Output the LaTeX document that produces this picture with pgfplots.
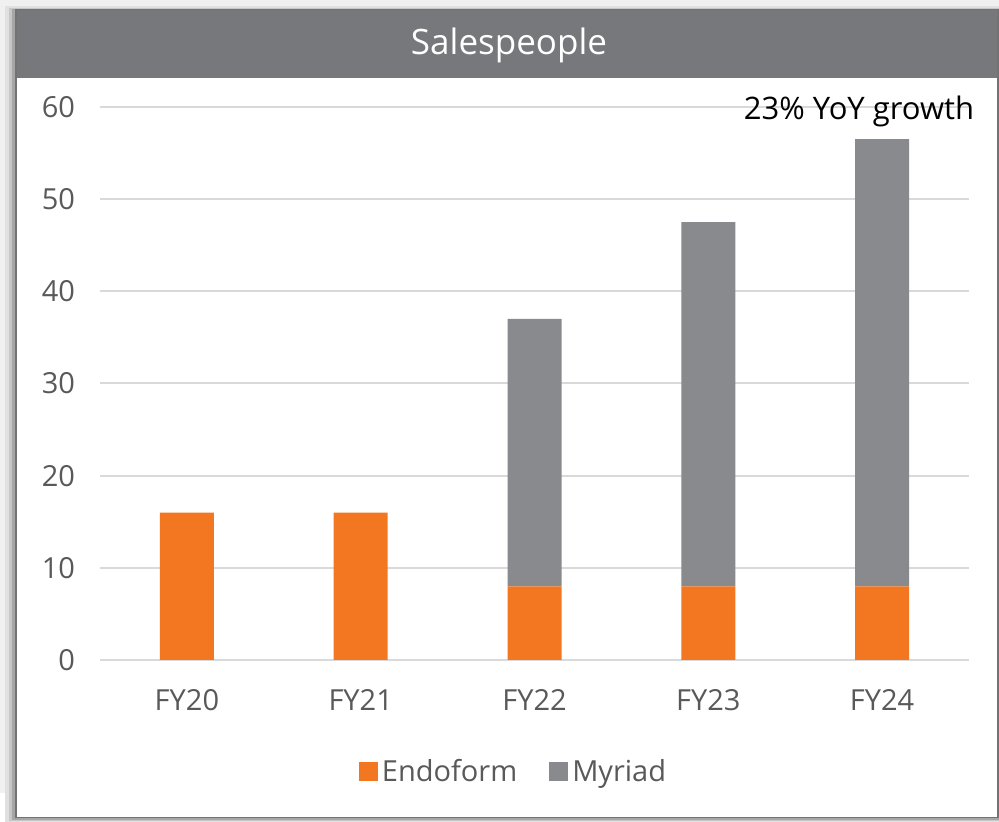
\documentclass[border=0pt]{standalone}
\usepackage{pgfplots}
\pgfplotsset{compat=1.18}
\usepackage{fontspec}
\setmainfont{Open Sans}
\definecolor{orangeE}{HTML}{F37721}
\definecolor{grayM}{HTML}{898A8D}
\definecolor{titlebar}{HTML}{77787B}
\definecolor{tickc}{HTML}{595959}
\definecolor{gridc}{HTML}{D9D9D9}
\begin{document}
\begin{tikzpicture}[x=1pt,y=1pt]
% page background
\fill[white] (0,0) rectangle (499.5,411);
\fill[gray!12] (0,14.5) rectangle (8.5,411);
\fill[gray!12] (0,406) rectangle (499.5,411);
% soft shadow
\fill[black!12] (2.5,0) rectangle (499.5,408);
\fill[black!22] (4.5,0.5) rectangle (499.5,407);
\fill[black!35] (6,1) rectangle (499.5,406.5);
\fill[black!55] (7.5,1.8) rectangle (499.5,406.3);
% frame
\fill[white] (8.5,2.5) rectangle (498.5,406);
\fill[titlebar] (8.5,372) rectangle (498.5,406);
\node[text=white, font=\fontsize{17.5}{21}\selectfont] at (254.5,388.5) {Salespeople};
\begin{axis}[
  at={(50pt,81pt)}, anchor=south west,
  scale only axis, width=434.5pt, height=276.5pt,
  ymin=0, ymax=60, xmin=-0.5, xmax=4.5,
  ybar stacked, bar width=27pt,
  axis line style={draw=none},
  ytick={0,10,...,60},
  xtick=data, xticklabels={FY20,FY21,FY22,FY23,FY24},
  major tick length=0pt,
  ymajorgrids, grid style={gridc, line width=1pt},
  ticklabel style={text=tickc, font=\fontsize{14.5}{17}\selectfont},
  /pgf/number format/assume math mode=true,
  yticklabel style={xshift=-9pt},
  xticklabel style={yshift=-11pt},
  legend style={at={(0.477,-0.2025)}, anchor=center, draw=none, fill=none,
    legend columns=2, font=\fontsize{14.5}{17}\selectfont, text=tickc,
    /tikz/every even column/.append style={column sep=14pt}},
  legend image code/.code={\fill[#1] (0pt,-4.75pt) rectangle (9.5pt,4.75pt);},
  clip=false,
]
\addplot[fill=orangeE, draw=none] coordinates {(0,16) (1,16) (2,8) (3,8) (4,8)};
\addlegendentry{Endoform}
\addplot[fill=grayM, draw=none] coordinates {(0,0) (1,0) (2,29) (3,39.5) (4,48.5)};
\addlegendentry{Myriad}
\end{axis}
\node[anchor=base, text=black, font=\fontsize{15.5}{18}\selectfont] at (429.5,351) {23\% YoY growth};
\end{tikzpicture}
\end{document}
